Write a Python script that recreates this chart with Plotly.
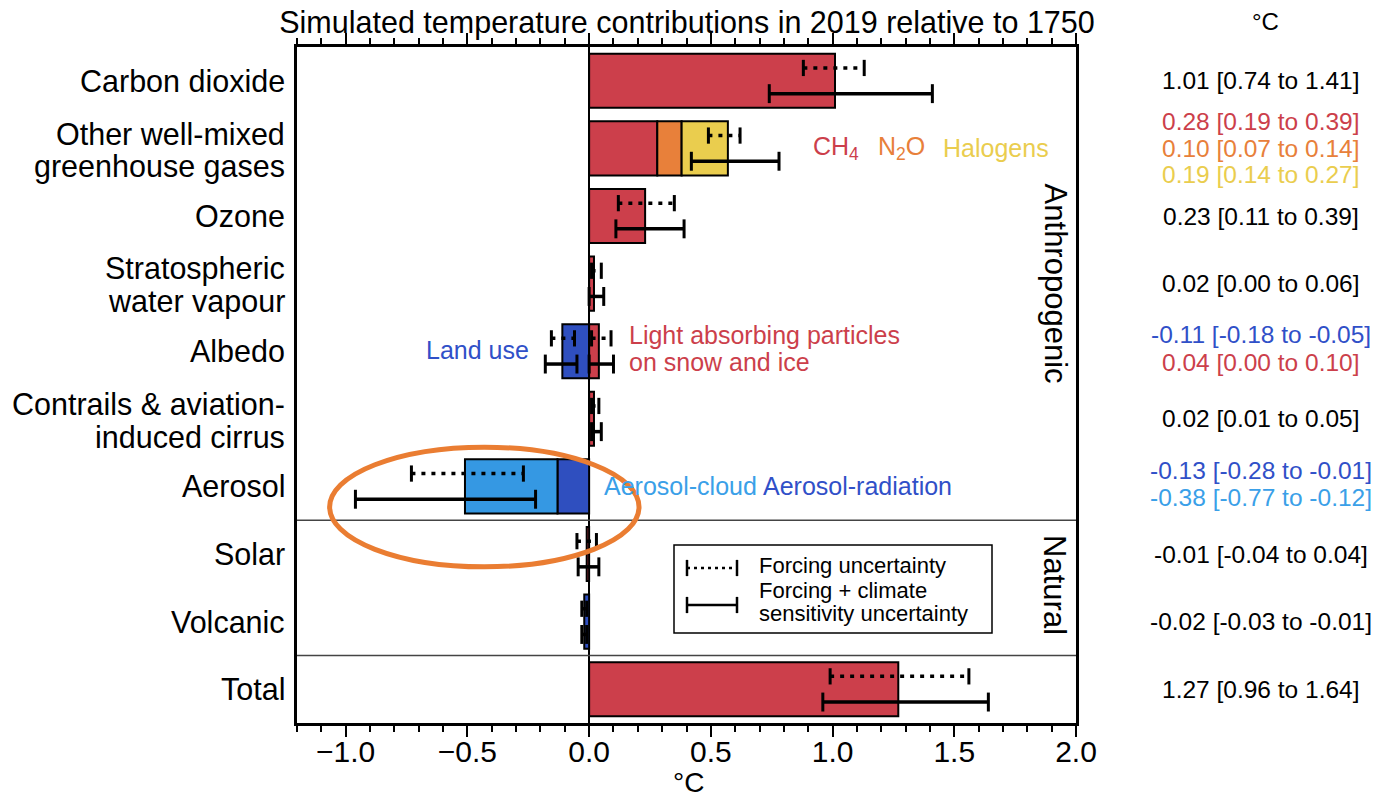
import plotly.graph_objects as go

# ---------------- data ----------------
categories = ["Carbon dioxide", "Other well-mixed<br>greenhouse gases", "Ozone",
              "Stratospheric<br>water vapour", "Albedo",
              "Contrails & aviation-<br>induced cirrus", "Aerosol", "Solar",
              "Volcanic", "Total"]

# bar segments (category index, value, colour)
seg_cat = [0, 1, 1, 1, 2, 3, 4, 4, 5, 6, 6, 7, 8, 9]
seg_val = [1.01, 0.28, 0.10, 0.19, 0.23, 0.02, -0.11, 0.04, 0.02, -0.13, -0.38, -0.01, -0.02, 1.27]
RED, ORANGE, YELLOW = "#CC3F4B", "#E8803A", "#EACD4E"
DBLUE, LBLUE = "#2F4FBF", "#3598E3"
seg_color = [RED, RED, ORANGE, YELLOW, RED, RED, DBLUE, RED, RED, DBLUE, LBLUE, RED, DBLUE, RED]

# uncertainty ranges
err_cat = [0, 1, 2, 3, 4, 4, 5, 6, 7, 8, 9]
forcing_lo = [0.88, 0.49, 0.12, 0.01, -0.155, 0.01, 0.01, -0.73, -0.05, -0.03, 0.99]
forcing_hi = [1.13, 0.62, 0.35, 0.05, -0.06, 0.09, 0.04, -0.27, 0.03, -0.01, 1.56]
total_lo = [0.74, 0.42, 0.11, 0.00, -0.18, 0.00, 0.01, -0.96, -0.045, -0.03, 0.96]
total_hi = [1.41, 0.78, 0.39, 0.06, -0.05, 0.10, 0.05, -0.22, 0.04, -0.01, 1.64]

# right-hand column
right_text = ["1.01 [0.74 to 1.41]", "0.28 [0.19 to 0.39]", "0.10 [0.07 to 0.14]",
              "0.19 [0.14 to 0.27]", "0.23 [0.11 to 0.39]", "0.02 [0.00 to 0.06]",
              "-0.11 [-0.18 to -0.05]", "0.04 [0.00 to 0.10]", "0.02 [0.01 to 0.05]",
              "-0.13 [-0.28 to -0.01]", "-0.38 [-0.77 to -0.12]", "-0.01 [-0.04 to 0.04]",
              "-0.02 [-0.03 to -0.01]", "1.27 [0.96 to 1.64]"]
right_cat = [0, 1, 1, 1, 2, 3, 4, 4, 5, 6, 6, 7, 8, 9]
right_off = [0, -0.4, 0, 0.38, 0, 0, -0.24, 0.17, 0, -0.24, 0.17, 0, 0, 0]
TXT_BLUE, TXT_LBLUE = "#3050C8", "#3AA0E8"
right_color = ["black", RED, ORANGE, YELLOW, "black", "black", TXT_BLUE, RED,
               "black", TXT_BLUE, TXT_LBLUE, "black", "black", "black"]

FONT = "Liberation Sans, Arial, Helvetica, sans-serif"

# page geometry (the html body adds an 8px margin around the figure)
W, H, OFF = 1365, 790, 8
PL, PR, PT, PB = 297, 1076, 47, 723   # plot area in page pixels


def px_x(p):
    return (p - PL) / (PR - PL)


def px_y(p):
    return (PB - p) / (PB - PT)


# ---------------- bars ----------------
pos_acc, neg_acc, base = {}, {}, []
for c, v in zip(seg_cat, seg_val):
    if v >= 0:
        b = pos_acc.get(c, 0.0)
        pos_acc[c] = b + v
    else:
        b = neg_acc.get(c, 0.0)
        neg_acc[c] = b + v
    base.append(b)

fig = go.Figure()
fig.add_trace(go.Bar(y=seg_cat, x=seg_val, base=base, orientation="h", width=0.8,
                     marker=dict(color=seg_color, line=dict(color="black", width=2)),
                     hoverinfo="skip", showlegend=False))


def segments(lo, hi, off, caph):
    lx, ly, cx, cy = [], [], [], []
    for c, l, h in zip(err_cat, lo, hi):
        y = c + off
        lx += [l, h, None]
        ly += [y, y, None]
        cx += [l, l, None, h, h, None]
        cy += [y - caph, y + caph, None, y - caph, y + caph, None]
    return lx, ly, cx, cy


for lo, hi, off, caph, dash in [(forcing_lo, forcing_hi, -0.19, 0.12, "4px,6px"),
                                (total_lo, total_hi, 0.19, 0.14, "solid")]:
    lx, ly, cx, cy = segments(lo, hi, off, caph)
    fig.add_trace(go.Scatter(x=lx, y=ly, mode="lines",
                             line=dict(color="black", width=3.5, dash=dash),
                             hoverinfo="skip", showlegend=False))
    fig.add_trace(go.Scatter(x=cx, y=cy, mode="lines",
                             line=dict(color="black", width=3),
                             hoverinfo="skip", showlegend=False))

# ---------------- layout ----------------
fig.update_layout(
    width=W, height=H, autosize=False,
    margin=dict(l=PL - OFF, r=W - (PR - OFF), t=PT - OFF, b=H - (PB - OFF)),
    plot_bgcolor="white", paper_bgcolor="white",
    font=dict(family=FONT, color="black"),
    barmode="overlay",
    title=dict(text="Simulated temperature contributions in 2019 relative to 1750",
               x=px_x(687), xref="paper", xanchor="center",
               y=1 - (22 - OFF) / H, yanchor="middle",
               font=dict(size=30.5, family=FONT, color="black")),
    xaxis=dict(range=[-1.2, 2.0], dtick=0.5, tick0=0, tickformat=".1f",
               ticks="outside", ticklen=11, tickwidth=2, tickcolor="black",
               showline=True, linecolor="black", linewidth=2.5, mirror="ticks",
               minor=dict(dtick=0.1, ticks="outside", ticklen=6, tickwidth=1.5,
                          tickcolor="black", showgrid=False),
               showgrid=False, zeroline=True, zerolinecolor="black", zerolinewidth=1.5,
               tickfont=dict(size=30, family=FONT), ticklabelstandoff=-11, automargin=False),
    yaxis=dict(range=[9.5, -0.5], tickmode="array", tickvals=list(range(len(categories))),
               ticktext=categories, showticklabels=False,
               showline=True, linecolor="black", linewidth=2.5,
               mirror=True, ticks="", showgrid=False, zeroline=False, automargin=False),
)

shapes = []
# divider lines
for yv in (6.5, 8.5):
    shapes.append(dict(type="line", xref="paper", x0=0, x1=1, yref="y", y0=yv, y1=yv,
                       line=dict(color="#444", width=1.5)))
# orange ellipse
shapes.append(dict(type="circle", xref="x", yref="y", x0=-1.066, x1=0.205, y0=5.42, y1=7.19,
                   line=dict(color="#EA7D32", width=5), layer="above"))
# legend box
shapes.append(dict(type="rect", xref="paper", yref="paper", x0=px_x(674), x1=px_x(992),
                   y0=px_y(633), y1=px_y(545),
                   line=dict(color="black", width=1.5), fillcolor="white", layer="above"))
lx0, lx1 = px_x(687), px_x(737)
for yy, dash in ((px_y(568), "3px,4px"), (px_y(605), "solid")):
    shapes.append(dict(type="line", xref="paper", yref="paper", x0=lx0, x1=lx1, y0=yy, y1=yy,
                       line=dict(color="black", width=2.5, dash=dash), layer="above"))
    for xx in (lx0, lx1):
        shapes.append(dict(type="line", xref="paper", yref="paper", x0=xx, x1=xx,
                           y0=yy - 0.012, y1=yy + 0.012,
                           line=dict(color="black", width=2.5), layer="above"))
fig.update_layout(shapes=shapes)

ann = []
# category labels (one annotation per text line for tighter line spacing)
for i, name in enumerate(categories):
    lines = name.split("<br>")
    offs = [0.0] if len(lines) == 1 else [-0.22, 0.27]
    for line, o in zip(lines, offs):
        ann.append(dict(text=line, x=px_x(287), xref="paper", y=i + o, yref="y",
                        showarrow=False, xanchor="right", yanchor="middle",
                        font=dict(size=30.5, family=FONT, color="black")))

RX = px_x(1261)
for t, c, o, col in zip(right_text, right_cat, right_off, right_color):
    ann.append(dict(text=t, x=RX, xref="paper", y=c + o, yref="y", showarrow=False,
                    xanchor="center", yanchor="middle", font=dict(size=24.5, color=col, family=FONT)))
ann.append(dict(text="°C", x=px_x(1265), xref="paper", y=px_y(22), yref="paper", showarrow=False,
                xanchor="center", yanchor="middle", font=dict(size=24, family=FONT)))
ann.append(dict(text="°C", x=px_x(688), xref="paper", y=px_y(782), yref="paper", showarrow=False,
                xanchor="center", yanchor="middle", font=dict(size=28, family=FONT)))


# in-plot labels
def lab(text, x, y, col, anchor="left", size=25, xref="x", yref="y", angle=0):
    ann.append(dict(text=text, x=x, y=y, xref=xref, yref=yref, showarrow=False,
                    xanchor=anchor, yanchor="middle", textangle=angle,
                    font=dict(size=size, color=col, family=FONT)))


lab("CH<sub>4</sub>", 0.91, 1.0, RED)
lab("N<sub>2</sub>O", 1.18, 1.0, ORANGE)
lab("Halogens", 1.447, 1.0, YELLOW)
lab("Land use", -0.238, 3.98, TXT_BLUE, anchor="right")
lab("Light absorbing particles", 0.156, 3.76, RED)
lab("on snow and ice", 0.156, 4.16, RED)
lab("Aerosol-cloud", 0.053, 5.99, TXT_LBLUE)
lab("Aerosol-radiation", 0.705, 5.99, TXT_BLUE)
lab("Anthropogenic", px_x(1055), 3.0, "black", anchor="center", size=31, xref="paper", angle=90)
lab("Natural", px_x(1055), 7.46, "black", anchor="center", size=31, xref="paper", angle=90)
# legend text
lab("Forcing uncertainty", px_x(757), px_y(565), "black", size=22, xref="paper", yref="paper")
lab("Forcing + climate", px_x(757), px_y(590), "black", size=22, xref="paper", yref="paper")
lab("sensitivity uncertainty", px_x(757), px_y(613), "black", size=22, xref="paper", yref="paper")

fig.update_layout(annotations=ann)
fig.write_html("out.html")
